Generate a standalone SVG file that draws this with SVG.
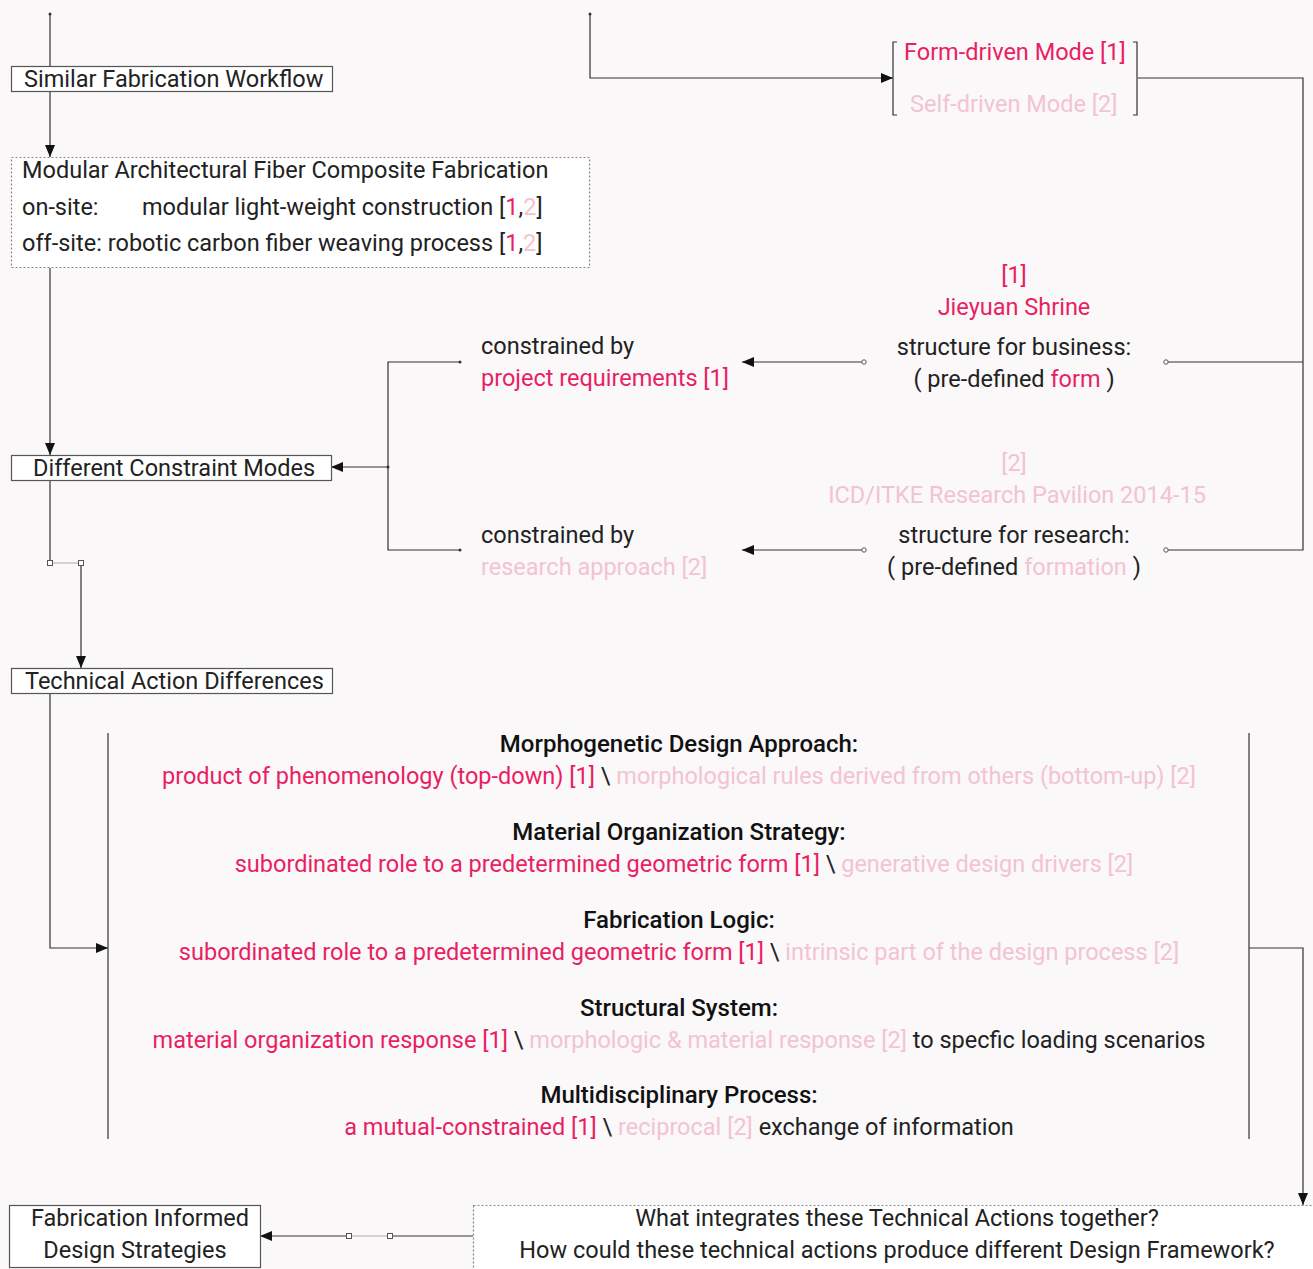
<svg xmlns="http://www.w3.org/2000/svg" width="1313" height="1269" viewBox="0 0 1313 1269">
<defs>
<style>
text{font-family:Roboto,"Liberation Sans",sans-serif;font-size:23.5px;font-weight:400;fill:#222}
.b{font-weight:500;fill:#111;font-size:24px}
.p{fill:#e91e63}
.f{fill:#f4c3d2}
.c{text-anchor:middle}
.ln{stroke:#333;stroke-width:1.2;fill:none}
.box{fill:#fff;stroke:#555;stroke-width:1.2}
.dbox{fill:#fff;stroke:#888;stroke-width:1.2;stroke-dasharray:2 2}
.o{fill:#fff;stroke:#555;stroke-width:1}
</style>
<marker id="ah" viewBox="0 0 12 10" refX="12" refY="5" markerWidth="12" markerHeight="10" markerUnits="userSpaceOnUse" orient="auto">
<path d="M0,0 L12,5 L0,10 Z" fill="#111"/>
</marker>
</defs>
<rect width="1313" height="1269" fill="#faf8f9"/>

<g id="connectors">
<line class="ln" x1="50" y1="14" x2="50" y2="66"/>
<line class="ln" x1="50" y1="91" x2="50" y2="157" marker-end="url(#ah)"/>
<line class="ln" x1="50" y1="268" x2="50" y2="455" marker-end="url(#ah)"/>
<polyline class="ln" points="590,14 590,78 893,78" marker-end="url(#ah)"/>
<polyline class="ln" points="1138,78 1303,78 1303,550 1168,550"/>
<line class="ln" x1="1303" y1="362" x2="1168" y2="362"/>
<line class="ln" x1="862" y1="362" x2="742" y2="362" marker-end="url(#ah)"/>
<line class="ln" x1="862" y1="550" x2="742" y2="550" marker-end="url(#ah)"/>
<polyline class="ln" points="460,362 388,362 388,550 460,550"/>
<line class="ln" x1="388" y1="467" x2="331" y2="467" marker-end="url(#ah)"/>
<line class="ln" x1="50" y1="480" x2="50" y2="561"/>
<line x1="53" y1="563" x2="78" y2="563" stroke="#aaa" stroke-width="1"/>
<line class="ln" x1="81" y1="566" x2="81" y2="668" marker-end="url(#ah)"/>
<polyline class="ln" points="50,693 50,948 108,948" marker-end="url(#ah)"/>
<line class="ln" x1="108" y1="733" x2="108" y2="1139"/>
<line class="ln" x1="1249" y1="733" x2="1249" y2="1139"/>
<polyline class="ln" points="1249,948 1303,948 1303,1205" marker-end="url(#ah)"/>
<line class="ln" x1="473" y1="1236" x2="393" y2="1236"/>
<line x1="387" y1="1236" x2="352" y2="1236" stroke="#aaa" stroke-width="1"/>
<line class="ln" x1="346" y1="1236" x2="260" y2="1236" marker-end="url(#ah)"/>
<rect class="o" x="47.5" y="560.5" width="5" height="5"/>
<rect class="o" x="78.5" y="560.5" width="5" height="5"/>
<rect class="o" x="346.5" y="1233.5" width="5" height="5"/>
<rect class="o" x="387.5" y="1233.5" width="5" height="5"/>
<circle class="o" cx="864" cy="362" r="2.2"/>
<circle class="o" cx="864" cy="550" r="2.2"/>
<circle class="o" cx="1166" cy="362" r="2.2"/>
<circle class="o" cx="1166" cy="550" r="2.2"/>
<circle cx="460" cy="362" r="1.5" fill="#333"/>
<circle cx="460" cy="550" r="1.5" fill="#333"/>
<circle cx="50" cy="14" r="1.5" fill="#333"/>
<circle cx="590" cy="14" r="1.5" fill="#333"/>
<circle cx="388" cy="467" r="1.5" fill="#333"/>
</g>

<g id="n-similar">
<rect class="box" x="11.5" y="66.5" width="321" height="25"/>
<text x="24" y="87">Similar Fabrication Workflow</text>
</g>

<g id="n-modular">
<rect class="dbox" x="11.5" y="157.5" width="578" height="110"/>
<text x="22" y="178">Modular Architectural Fiber Composite Fabrication</text>
<text x="22" y="215">on-site:</text>
<text x="142" y="215">modular light-weight construction [<tspan class="p">1</tspan>,<tspan class="f">2</tspan>]</text>
<text x="22" y="251">off-site:  robotic carbon fiber weaving process [<tspan class="p">1</tspan>,<tspan class="f">2</tspan>]</text>
</g>

<g id="n-modes">
<path class="ln" d="M897,42 H893 V115 H897 M1133,42 H1137 V115 H1133" stroke-width="1"/>
<text class="p" x="904" y="60">Form-driven Mode [1]</text>
<text class="f" x="910" y="112">Self-driven Mode [2]</text>
</g>

<g id="n-jieyuan">
<text class="p c" x="1014" y="283">[1]</text>
<text class="p c" x="1014" y="315">Jieyuan Shrine</text>
<text class="c" x="1014" y="355">structure for business:</text>
<text class="c" x="1014" y="387">( pre-defined <tspan class="p">form</tspan> )</text>
</g>

<g id="n-icd">
<text class="f c" x="1014" y="471">[2]</text>
<text class="f c" x="1017" y="503">ICD/ITKE Research Pavilion 2014-15</text>
<text class="c" x="1014" y="543">structure for research:</text>
<text class="c" x="1014" y="575">( pre-defined <tspan class="f">formation</tspan> )</text>
</g>

<g id="n-project">
<text x="481" y="354">constrained by</text>
<text class="p" x="481" y="386">project requirements [1]</text>
</g>

<g id="n-research">
<text x="481" y="543">constrained by</text>
<text class="f" x="481" y="575">research approach [2]</text>
</g>

<g id="n-constraint">
<rect class="box" x="11.5" y="455.5" width="320" height="25"/>
<text x="33" y="476">Different Constraint Modes</text>
</g>

<g id="n-technical">
<rect class="box" x="11.5" y="668.5" width="321" height="25"/>
<text x="25" y="689">Technical Action Differences</text>
</g>

<g id="n-actions">
<text class="b c" x="679" y="752">Morphogenetic Design Approach:</text>
<text class="c" x="679" y="784"><tspan class="p">product of phenomenology (top-down) [1]</tspan> \ <tspan class="f">morphological rules derived from others (bottom-up) [2]</tspan></text>
<text class="b c" x="679" y="840">Material Organization Strategy:</text>
<text class="c" x="684" y="872"><tspan class="p">subordinated role to a predetermined geometric form [1]</tspan> \ <tspan class="f">generative design drivers [2]</tspan></text>
<text class="b c" x="679" y="928">Fabrication Logic:</text>
<text class="c" x="679" y="960"><tspan class="p">subordinated role to a predetermined geometric form [1]</tspan>  \ <tspan class="f">intrinsic part of the design process [2]</tspan></text>
<text class="b c" x="679" y="1016">Structural System:</text>
<text class="c" x="679" y="1048"><tspan class="p">material organization response [1]</tspan> \ <tspan class="f">morphologic &amp; material response [2]</tspan> to specfic loading scenarios</text>
<text class="b c" x="679" y="1103">Multidisciplinary Process:</text>
<text class="c" x="679" y="1135"><tspan class="p">a mutual-constrained [1]</tspan> \ <tspan class="f">reciprocal [2]</tspan> exchange of information</text>
</g>

<g id="n-question">
<rect class="dbox" x="473.5" y="1205.5" width="845" height="70"/>
<text class="c" x="897" y="1226">What integrates these Technical Actions together?</text>
<text class="c" x="897" y="1258">How could these technical actions produce different Design Framework?</text>
</g>

<g id="n-strategies">
<rect class="box" x="9.5" y="1205.5" width="251" height="62"/>
<text class="c" x="140" y="1226">Fabrication Informed</text>
<text class="c" x="135" y="1258">Design Strategies</text>
</g>
</svg>
